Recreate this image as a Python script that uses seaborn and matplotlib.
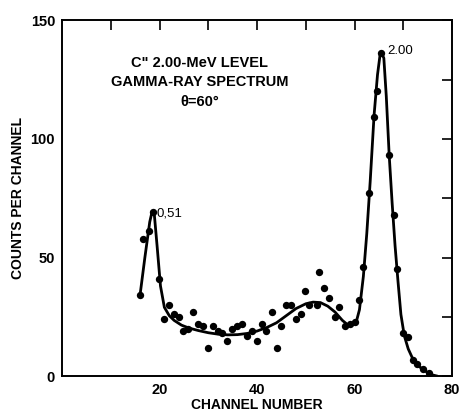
import matplotlib
matplotlib.use("Agg")
import matplotlib.pyplot as plt
import seaborn as sns
import pandas as pd

# Measured points (channel, counts)
chan = [16.0, 16.7, 17.8, 18.7, 19.9, 21.0, 21.9, 23.0, 23.9, 24.8, 25.9, 26.9, 27.8,
        29.0, 30.0, 31.0, 31.9, 32.8, 33.8, 34.8, 35.8, 36.9, 37.9, 38.9, 40.0,
        41.1, 41.8, 43.0, 44.0, 44.9, 45.9, 47.0, 47.9, 49.0, 49.8, 50.7, 52.2,
        52.8, 53.7, 54.8, 55.9, 56.8, 58.1, 59.1, 60.1, 60.9, 61.8, 63.0, 63.9,
        64.7, 65.4, 67.1, 68.0, 68.8, 69.9, 71.0, 71.9, 72.9, 74.1, 75.3]
counts = [34, 58, 61, 69, 41, 24, 30, 26, 25, 19, 20, 27, 22,
          21, 12, 21, 19, 18, 15, 20, 21, 22, 17, 19, 15,
          22, 19, 27, 12, 21, 30, 30, 24, 26, 36, 30, 30,
          44, 37, 33, 25, 29, 21, 22, 23, 32, 46, 77, 109,
          120, 136, 93, 68, 45, 18, 16.5, 7, 5, 3, 1.5]

# Fitted curve
curve_x = [16.0, 17.0, 18.0, 18.5, 18.9, 19.5, 20.2, 21.0, 22.0, 23.0, 24.5, 26.0, 28.0,
           30.0, 32.0, 34.0, 36.0, 38.0, 40.0, 42.0, 44.0, 46.0, 48.0, 50.0, 51.5,
           53.0, 54.5, 56.0, 57.5, 58.5, 59.5, 60.3, 61.0, 61.8, 62.5, 63.2, 64.0,
           64.7, 65.2, 65.6, 66.0, 66.5, 67.1, 67.7, 68.3, 68.9, 69.5, 70.2, 71.0,
           72.0, 73.0, 74.0, 75.0, 76.0, 77.0]
curve_y = [34, 50, 65, 69.5, 69, 55, 38, 29, 25.5, 23.5, 21.5, 20.3, 19.2,
           18.3, 17.7, 17.4, 17.5, 18.0, 19.0, 20.5, 22.5, 25.5, 28.5, 30.5, 31.2,
           31.0, 29.5, 27.0, 23.5, 21.8, 21.5, 22.5, 28, 42, 60, 82, 110,
           127, 135, 136, 134, 118, 93, 73, 55, 40, 26, 17, 11.5,
           7, 4.5, 2.8, 1.5, 0.5, 0]

xticks = [20, 40, 60, 80]
yticks = [0, 50, 100, 150]

pts = pd.DataFrame({"channel": chan, "counts": counts})
fit = pd.DataFrame({"channel": curve_x, "counts": curve_y})

sns.set_style("white")
plt.rcParams["font.family"] = ["Liberation Sans", "DejaVu Sans"]
plt.rcParams["text.color"] = "black"
plt.rcParams["axes.labelcolor"] = "black"
plt.rcParams["xtick.color"] = "black"
plt.rcParams["ytick.color"] = "black"

fig = plt.figure(figsize=(4.59, 4.12), dpi=100)
ax = fig.add_axes([0.135, 0.087, 0.85, 0.864])

sns.lineplot(data=fit, x="channel", y="counts", sort=False, color="black",
             linewidth=2.0, ax=ax)
sns.scatterplot(data=pts, x="channel", y="counts", color="black", s=28,
                edgecolor="black", linewidth=0, ax=ax, zorder=3)

ax.set_xlim(0, 80)
ax.set_ylim(0, 150)
ax.set_xticks(xticks)
ax.set_xticklabels(["20", "40", "60", "80"])
ax.set_xticks(range(10, 80, 10), minor=True)
ax.set_yticks(yticks)
ax.set_yticklabels(["0", "50", "100", "150"])
ax.set_yticks([25, 75, 125], minor=True)
ax.tick_params(axis="both", which="both", direction="in", length=7, width=1.2,
               top=True, right=True, labelsize=10.5, pad=5)
for lab in ax.get_xticklabels() + ax.get_yticklabels():
    lab.set_fontweight("bold")
for sp in ax.spines.values():
    sp.set_linewidth(1.4)
    sp.set_color("black")

ax.set_xlabel("CHANNEL NUMBER", fontsize=10, fontweight="bold", labelpad=1)
ax.set_ylabel("COUNTS PER CHANNEL", fontsize=10, fontweight="bold", labelpad=4)

ax.text(28.3, 132, 'C" 2.00-MeV LEVEL', ha="center", va="center",
        fontsize=10.5, fontweight="bold")
ax.text(28.3, 124, "GAMMA-RAY SPECTRUM", ha="center", va="center",
        fontsize=10.5, fontweight="bold")
ax.text(28.3, 115.5, "θ=60°", ha="center", va="center",
        fontsize=10.5, fontweight="bold")
ax.text(19.3, 68.5, "0,51", ha="left", va="center", fontsize=9.5)
ax.text(66.7, 137, "2.00", ha="left", va="center", fontsize=9.5)

fig.savefig("out.png", dpi=100)
